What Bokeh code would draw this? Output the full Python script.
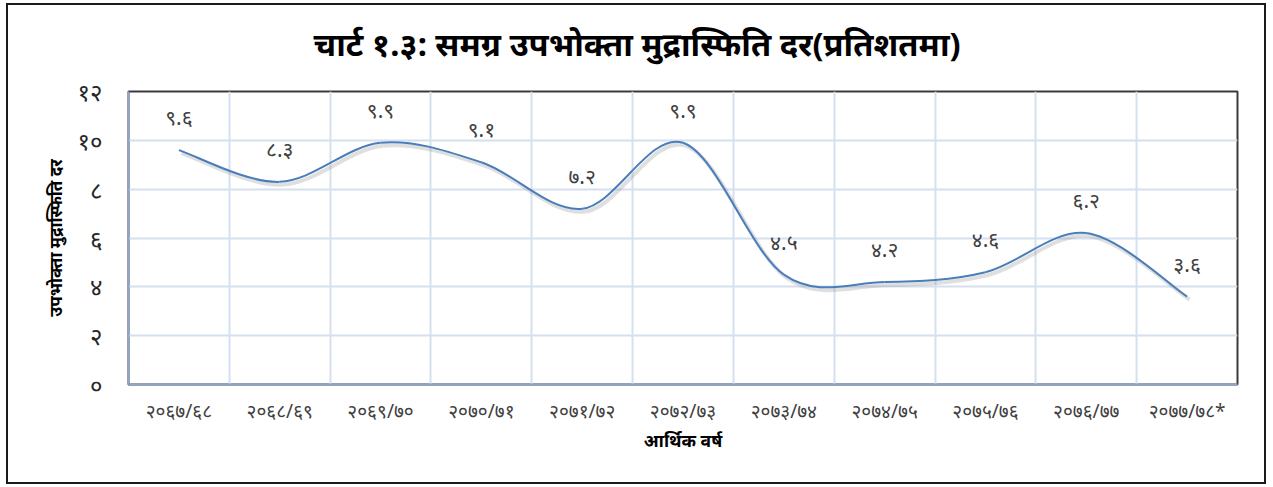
import numpy as np
from bokeh.plotting import figure
from bokeh.models import FixedTicker, ColumnDataSource, Range1d, InlineStyleSheet, Title
from bokeh.embed import file_html
from bokeh.resources import INLINE
from bokeh.core.properties import value

# ---------------- data ----------------
years = ["२०६७/६८", "२०६८/६९", "२०६९/७०", "२०७०/७१", "२०७१/७२", "२०७२/७३",
         "२०७३/७४", "२०७४/७५", "२०७५/७६", "२०७६/७७", "२०७७/७८*"]
inflation = [9.6, 8.3, 9.9, 9.1, 7.2, 9.9, 4.5, 4.2, 4.6, 6.2, 3.6]
value_labels = ["९.६", "८.३", "९.९", "९.१", "७.२", "९.९", "४.५", "४.२", "४.६", "६.२", "३.६"]
y_ticks = [0, 2, 4, 6, 8, 10, 12]
y_tick_labels = ["०", "२", "४", "६", "८", "१०", "१२"]

title_text = "चार्ट १.३: समग्र उपभोक्ता मुद्रास्फिति दर(प्रतिशतमा)"
y_title = "उपभोक्ता मुद्रास्फिति दर"
x_title = "आर्थिक वर्ष"

FONT = "Noto Sans"
n = len(years)
xs = [i + 0.5 for i in range(n)]

# smooth curve (Catmull-Rom -> cubic Bezier), like Excel's smoothed line
def bezier_segments(x, y):
    seg = dict(x0=[], y0=[], x1=[], y1=[], cx0=[], cy0=[], cx1=[], cy1=[])
    m = len(x)
    for i in range(m - 1):
        xm, ym = (x[i - 1], y[i - 1]) if i > 0 else (x[i], y[i])
        xp, yp = (x[i + 2], y[i + 2]) if i + 2 < m else (x[i + 1], y[i + 1])
        seg["x0"].append(x[i]); seg["y0"].append(y[i])
        seg["x1"].append(x[i + 1]); seg["y1"].append(y[i + 1])
        seg["cx0"].append(x[i] + (x[i + 1] - xm) / 6)
        seg["cy0"].append(y[i] + (y[i + 1] - ym) / 6)
        seg["cx1"].append(x[i + 1] - (xp - x[i]) / 6)
        seg["cy1"].append(y[i + 1] - (yp - y[i]) / 6)
    return seg

curve = ColumnDataSource(bezier_segments(xs, inflation))
shadow = ColumnDataSource(bezier_segments([v + 0.025 for v in xs], [v - 0.12 for v in inflation]))
pts = ColumnDataSource(dict(x=xs, y=inflation, lab=value_labels))

p = figure(width=1260, height=481, output_backend="svg", toolbar_location=None,
           x_range=Range1d(0, n), y_range=Range1d(0, 12),
           min_border_left=120, min_border_right=31, min_border_top=10, min_border_bottom=102)
# outer frame of the chart
p.stylesheets = [InlineStyleSheet(css=":host { border: 2px solid #1a1a1a; box-sizing: border-box; "
                                      "margin-left: 6px; margin-top: 3px; }")]

# spacer between title and plot frame (nearest to the frame)
p.add_layout(Title(text=" ", text_font_size="1px", standoff=10), "above")

p.title.text = title_text
p.title.align = "left"
p.title.offset = 185
p.title.text_font = FONT
p.title.text_font_size = "32.7px"
p.title.text_font_style = "bold"
p.title.text_color = "#000000"
p.title.standoff = 26

p.background_fill_color = "white"
p.border_fill_color = "white"
p.outline_line_color = "#3a3a3a"
p.outline_line_width = 2

# grid
p.xgrid.ticker = FixedTicker(ticks=list(range(n + 1)))
p.ygrid.ticker = FixedTicker(ticks=y_ticks)
for g in (p.xgrid, p.ygrid):
    g.grid_line_color = "#D5E0EF"
    g.grid_line_width = 2

# axes
p.xaxis.ticker = FixedTicker(ticks=xs)
p.xaxis.major_label_overrides = {x: lab for x, lab in zip(xs, years)}
p.yaxis.ticker = FixedTicker(ticks=y_ticks)
p.yaxis.major_label_overrides = {t: lab for t, lab in zip(y_ticks, y_tick_labels)}
for ax in (p.xaxis, p.yaxis):
    ax.axis_line_color = "#8FA6C6"
    ax.axis_line_width = 2
    ax.major_tick_line_color = None
    ax.minor_tick_line_color = None
    ax.major_label_text_font = FONT
    ax.axis_label_text_font = FONT
    ax.axis_label_text_font_style = "bold"
    ax.axis_label_text_color = "#000000"
p.xaxis.major_label_text_font_size = "19px"
p.xaxis.major_label_text_color = "#404040"
p.xaxis.major_label_standoff = 7
p.xaxis.axis_label = x_title
p.xaxis.axis_label_text_font_size = "17.5px"
p.xaxis.axis_label_standoff = 1
p.yaxis.major_label_text_font_size = "24px"
p.yaxis.major_label_text_color = "#262626"
p.yaxis.major_label_standoff = 20
p.yaxis.axis_label = y_title
p.yaxis.axis_label_text_font_size = "17px"
p.yaxis.axis_label_standoff = 8

# line with soft shadow
p.bezier("x0", "y0", "x1", "y1", "cx0", "cy0", "cx1", "cy1", source=shadow,
         line_color="#7f7f7f", line_alpha=0.25, line_width=4)
p.bezier("x0", "y0", "x1", "y1", "cx0", "cy0", "cx1", "cy1", source=curve,
         line_color="#4A7EBB", line_width=2)

# data labels
p.text("x", "y", text="lab", source=pts, text_font=value(FONT), text_font_size="21px",
       text_color="#404040", text_align="center", text_baseline="middle", y_offset=-33)

open("out.html", "w").write(file_html(p, INLINE))
